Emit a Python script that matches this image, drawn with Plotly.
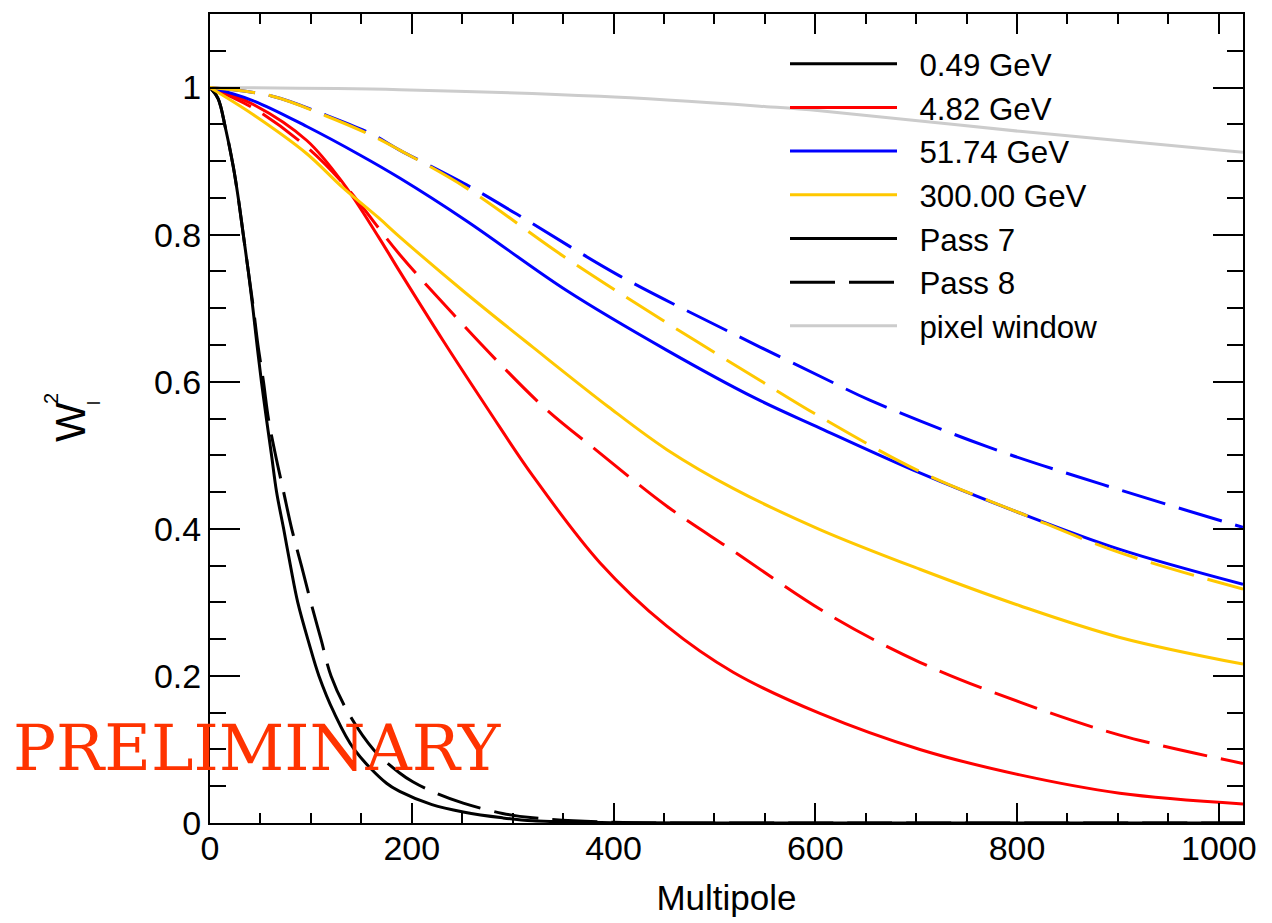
import plotly.graph_objects as go

# ---- data ----
ell_black_p7 = [0, 8, 15, 23, 28, 33, 38, 42.5, 46.6, 51, 56, 61, 66, 73, 80, 87, 98, 108, 123, 143, 175, 188, 220, 251, 290, 320, 400, 500, 700, 1024]
w_black_p7 = [1, 0.985, 0.947, 0.893, 0.85, 0.8, 0.75, 0.70, 0.65, 0.6, 0.549, 0.5, 0.45, 0.4, 0.348, 0.3, 0.245, 0.2, 0.15, 0.1, 0.054, 0.043, 0.025, 0.015, 0.007, 0.003, 0.0005, 0, 0, 0]

ell_black_p8 = [0, 8, 15, 23, 28, 33, 38, 43, 47.5, 53, 58, 65, 73, 81, 91, 100, 110, 120, 137, 162, 188, 201, 225, 251, 290, 320, 400, 500, 700, 1024]
w_black_p8 = [1, 0.985, 0.947, 0.893, 0.85, 0.8, 0.75, 0.70, 0.65, 0.6, 0.549, 0.5, 0.45, 0.4, 0.348, 0.3, 0.25, 0.2, 0.15, 0.1, 0.068, 0.056, 0.04, 0.027, 0.013, 0.007, 0.001, 0, 0, 0]

ell_red_p7 = [0, 43, 96, 133, 167, 188, 231, 276, 320, 386.5, 452.6, 518.6, 604.6, 703.7, 802.8, 901.9, 1024]
w_red_p7 = [1, 0.977, 0.928, 0.868, 0.797, 0.75, 0.656, 0.5616, 0.472, 0.354, 0.268, 0.205, 0.149, 0.10, 0.0654, 0.0406, 0.026]

ell_red_p8 = [0, 43, 96, 133, 188, 241, 287, 334, 386.5, 452.6, 518.6, 614, 703.7, 802.8, 901.9, 1024]
w_red_p8 = [1, 0.972, 0.919, 0.868, 0.773, 0.692, 0.625, 0.5616, 0.503, 0.431, 0.37, 0.283, 0.2185, 0.1644, 0.1195, 0.081]

ell_blue_p7 = [0, 43, 96, 149, 188, 254, 353.5, 452.6, 540, 604.6, 703.7, 802.8, 901.9, 1024]
w_blue_p7 = [1, 0.982, 0.947, 0.908, 0.877, 0.819, 0.724, 0.643, 0.578, 0.537, 0.476, 0.4215, 0.372, 0.3245]

ell_blue_p8 = [0, 61, 114, 160, 188, 254, 304, 406, 508.7, 612.8, 654, 769.8, 885.3, 1024]
w_blue_p8 = [1, 0.9885, 0.963, 0.937, 0.915, 0.868, 0.828, 0.744, 0.672, 0.602, 0.575, 0.512, 0.46, 0.402]

ell_yellow_p7 = [0, 43, 96, 130, 167, 188, 254, 320, 394.8, 452.6, 518.6, 604.6, 703.7, 802.8, 901.9, 1024]
w_yellow_p7 = [1, 0.963, 0.91, 0.866, 0.823, 0.797, 0.72, 0.647, 0.566, 0.508, 0.455, 0.399, 0.345, 0.2954, 0.2523, 0.216]

ell_yellow_p8 = [0, 61, 114, 160, 188, 254, 350, 446, 545, 604.6, 703.7, 802.8, 901.9, 1024]
w_yellow_p8 = [1, 0.9885, 0.962, 0.935, 0.915, 0.8636, 0.771, 0.686, 0.602, 0.5525, 0.478, 0.4215, 0.3676, 0.318]

ell_pixel = [0, 188, 386.5, 551.7, 604.6, 802.8, 1024]
w_pixel = [1, 0.997, 0.988, 0.974, 0.9685, 0.9405, 0.912]

energy_labels = ["0.49 GeV", "4.82 GeV", "51.74 GeV", "300.00 GeV"]
x_ticks = [0, 200, 400, 600, 800, 1000]
y_ticks = [0, 0.2, 0.4, 0.6, 0.8, 1]

BLACK, RED, BLUE, YELLOW, GRAY = "#000000", "#ff0000", "#0000ff", "#ffc800", "#cccccc"
DASH = "45px,14px"
LW = 3
GAP = "\u00a0\u00a0"  # space between legend sample and its text

fig = go.Figure()

def add(x, y, color, dash, name, show, rank):
    fig.add_trace(go.Scatter(
        x=x, y=y, mode="lines", name=GAP + name, showlegend=show, legendrank=rank,
        line=dict(color=color, width=LW, dash=dash, shape="spline", smoothing=1.0),
        hoverinfo="skip"))

add(ell_pixel, w_pixel, GRAY, "solid", "pixel window", True, 7)
add(ell_black_p7, w_black_p7, BLACK, "solid", energy_labels[0], True, 1)
add(ell_black_p8, w_black_p8, BLACK, DASH, "p8a", False, 100)
add(ell_red_p7, w_red_p7, RED, "solid", energy_labels[1], True, 2)
add(ell_red_p8, w_red_p8, RED, DASH, "p8b", False, 100)
add(ell_blue_p7, w_blue_p7, BLUE, "solid", energy_labels[2], True, 3)
add(ell_blue_p8, w_blue_p8, BLUE, DASH, "p8c", False, 100)
add(ell_yellow_p7, w_yellow_p7, YELLOW, "solid", energy_labels[3], True, 4)
add(ell_yellow_p8, w_yellow_p8, YELLOW, DASH, "p8d", False, 100)
# style-only legend entries
fig.add_trace(go.Scatter(x=[None], y=[None], mode="lines", name=GAP + "Pass 7", legendrank=5,
                         line=dict(color=BLACK, width=LW)))
fig.add_trace(go.Scatter(x=[None], y=[None], mode="lines", name=GAP + "Pass 8", legendrank=6,
                         line=dict(color=BLACK, width=LW, dash=DASH)))

FONT = "Liberation Sans, Arial, sans-serif"
axis_common = dict(
    showgrid=False, zeroline=False, showline=True, linecolor="black", linewidth=2,
    mirror="allticks", ticks="inside", tickcolor="black", tickwidth=2,
    tickfont=dict(family=FONT, size=34, color="black"),
)

fig.update_xaxes(range=[0, 1024], tickvals=x_ticks, ticklen=20, ticklabelstandoff=-6,
                 minor=dict(dtick=50, ticks="inside", ticklen=10, tickwidth=2, tickcolor="black", showgrid=False),
                 title=dict(text="Multipole", font=dict(family=FONT, size=35, color="black"), standoff=20),
                 **axis_common)
fig.update_yaxes(range=[0, 1.1], tickvals=y_ticks, ticklen=30,
                 minor=dict(dtick=0.05, ticks="inside", ticklen=16, tickwidth=2, tickcolor="black", showgrid=False),
                 **axis_common)

L, R, T, B = 210, 29, 12, 98
W, H = 1272, 923
pw, ph = W - L - R, H - T - B
def px(xp): return (xp - L) / pw
def py(yp): return (H - B - yp) / ph

fig.add_annotation(text="W", x=px(71), y=py(422), xref="paper", yref="paper", showarrow=False,
                   textangle=-90, font=dict(family=FONT, size=42, color="black"), xanchor="center", yanchor="middle")
fig.add_annotation(text="2", x=px(51), y=py(399), xref="paper", yref="paper", showarrow=False,
                   textangle=-90, font=dict(family=FONT, size=20, color="black"), xanchor="center", yanchor="middle")
fig.add_annotation(text="l", x=px(94), y=py(403), xref="paper", yref="paper", showarrow=False,
                   textangle=-90, font=dict(family=FONT, size=18, color="black"), xanchor="center", yanchor="middle")
fig.add_annotation(text="PRELIMINARY", x=px(257), y=py(750), xref="paper", yref="paper", showarrow=False,
                   font=dict(family="DejaVu Serif, Liberation Serif, serif", size=64, color="#ff3300"),
                   xanchor="center", yanchor="middle")

fig.update_layout(
    width=W, height=H, margin=dict(l=L, r=R, t=T, b=B),
    plot_bgcolor="white", paper_bgcolor="white",
    legend=dict(x=px(785), y=py(35), xanchor="left", yanchor="top", bgcolor="rgba(0,0,0,0)",
                font=dict(family=FONT, size=31.3, color="black"), itemwidth=107,
                tracegroupgap=0),
    showlegend=True,
)

fig.write_html("out.html")
